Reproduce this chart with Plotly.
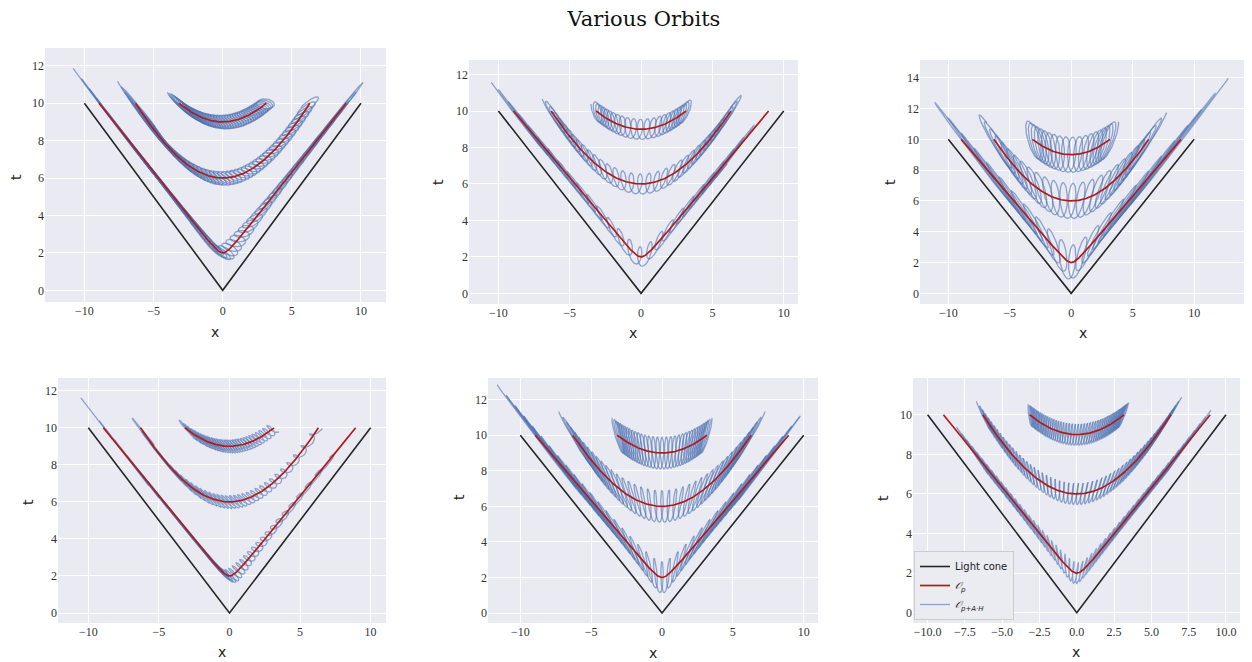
import numpy as np
import plotly.graph_objects as go

# ---------------- data ----------------
# orbits O_p : apex height, half-width where they reach t=10, shape, end rapidity
apex_t = [2.0, 6.0, 9.0]
end_x = [8.94, 6.30, 3.16]
shape_r = [0.4, 20.0, 20.0]
end_rapidity = [1.8, 0.91, 0.35]

# perturbed orbits O_{p+A*H}: per panel loop size, tilt, phase, centre sparsity, loop counts
loop_a = [0.75, 0.30, 0.46, 0.55, 0.19, 0.09]
loop_b = [0.20, 0.56, 1.15, 0.10, 0.90, 0.55]
loop_tilt_deg = [-25, -8, -5, -38, 0, -12]
loop_phase_deg = [180, 153, 60, 0, 90, 90]
centre_sparsity = [0.3, 0.8, 0.6, -0.15, 0.6, 0.5]
loop_counts = [[50, 50, 40], [30, 34, 24], [24, 26, 20], [40, 34, 30], [40, 40, 34], [64, 56, 48]]
# trimming of the outer (t = 2) perturbed orbit, in rapidity
trim_left = [0.10, 0.0, 0.07, 0.05, 0.0, 0.20]
trim_right = [0.0, 0.25, 0.0, 0.20, 0.12, 0.15]

# light cone
cone_x = [-10, 0, 10]
cone_t = [10, 0, 10]

# axes
x_ranges = [[-12.85, 11.81], [-12.06, 11.0], [-12.3, 14.3], [-12.15, 11.09], [-12.28, 11.01], [-10.98, 10.94]]
y_ranges = [[-0.625, 12.95], [-0.585, 12.8], [-0.69, 15.15], [-0.54, 12.69], [-0.56, 13.22], [-0.52, 11.86]]
x_ticks = [[-10, -5, 0, 5, 10]] * 5 + [[-10.0, -7.5, -5.0, -2.5, 0.0, 2.5, 5.0, 7.5, 10.0]]
x_ticktext = [["−10", "−5", "0", "5", "10"]] * 5 + [["−10.0", "−7.5", "−5.0", "−2.5", "0.0", "2.5", "5.0", "7.5", "10.0"]]
y_ticks = [[0, 2, 4, 6, 8, 10, 12], [0, 2, 4, 6, 8, 10, 12], [0, 2, 4, 6, 8, 10, 12, 14],
           [0, 2, 4, 6, 8, 10, 12], [0, 2, 4, 6, 8, 10, 12], [0, 2, 4, 6, 8, 10]]

# panel boxes in window pixels (left, right, top, bottom) and axis-label centres
panel_px = [(45, 386, 48, 302), (469, 798, 60, 304), (920, 1247, 60, 304),
            (58, 386, 378, 623), (488, 818, 378, 623), (913, 1240, 378, 623)]
xlabel_px = [(215, 332), (633, 333), (1083, 333), (222, 652), (653, 653), (1076, 652)]
ylabel_px = [(16, 177), (438, 182), (890, 182), (28, 502), (459, 497), (883, 498)]

OFF = 8            # page body margin of the browser
W, H = 1252 - OFF, 662 - OFF
CONE = "#262626"
RED = "#B01C1C"
BLUE = "rgba(76,114,176,0.6)"
BG = "#EAEAF2"


def fx(px):
    return (px - OFF) / W


def fy(py):
    return 1 - (py - OFF) / H


def orbit_center(k, s):
    c, xe, r, S = apex_t[k], end_x[k], shape_r[k], end_rapidity[k]
    m = ((10.0 - c + r) ** 2 - r ** 2) / xe ** 2
    x = xe * np.sinh(s) / np.sinh(S)
    t = c - r + np.sqrt(r ** 2 + m * x ** 2)
    return x, t


def perturbed(panel, k):
    S = end_rapidity[k]
    n = loop_counts[panel][k]
    s = np.linspace(-S, S, n * 90 + 1)
    u = s / S
    q = centre_sparsity[panel]
    th = np.pi * n * ((u + q * u ** 3) / (1 + q) + 1) + np.deg2rad(loop_phase_deg[panel])
    if k == 0:
        keep = (s >= -S + trim_left[panel]) & (s <= S - trim_right[panel])
        s, th = s[keep], th[keep]
    xc, tc = orbit_center(k, s)
    a, b = loop_a[panel], loop_b[panel]
    al = np.deg2rad(loop_tilt_deg[panel])
    ox0 = a * np.cos(th)
    ot0 = b * np.sin(th)
    ox = ox0 * np.cos(al) - ot0 * np.sin(al)
    ot = ox0 * np.sin(al) + ot0 * np.cos(al)
    bx = ox * np.cosh(s) + ot * np.sinh(s)
    bt = ox * np.sinh(s) + ot * np.cosh(s)
    loop_id = np.floor((th - th[0]) / (2 * np.pi)).astype(int)
    return xc + bx, tc + bt, loop_id


fig = go.Figure()
for p in range(6):
    xa = "x" if p == 0 else f"x{p + 1}"
    ya = "y" if p == 0 else f"y{p + 1}"
    show = (p == 5)
    fig.add_trace(go.Scatter(x=cone_x, y=cone_t, mode="lines", xaxis=xa, yaxis=ya,
                             line=dict(color=CONE, width=1.6), name="Light cone",
                             showlegend=show, legendrank=1, legendgroup="cone"))
    for k in range(3):
        bx, bt, lid = perturbed(p, k)
        for j in range(lid.max() + 1):
            idx = np.nonzero(lid == j)[0]
            if len(idx) == 0:
                continue
            i0, i1 = idx[0], min(idx[-1] + 2, len(bx))
            fig.add_trace(go.Scatter(x=bx[i0:i1], y=bt[i0:i1], mode="lines", xaxis=xa, yaxis=ya,
                                     line=dict(color=BLUE, width=1.3),
                                     name="<i>𝒪</i><sub><i>p+A·H</i></sub>",
                                     legendgroup="blue", legendrank=3,
                                     showlegend=show and k == 0 and j == 0, hoverinfo="skip"))
    for k in range(3):
        s = np.linspace(-end_rapidity[k], end_rapidity[k], 300)
        xc, tc = orbit_center(k, s)
        fig.add_trace(go.Scatter(x=xc, y=tc, mode="lines", xaxis=xa, yaxis=ya,
                                 line=dict(color=RED, width=1.7),
                                 name="<i>𝒪</i><sub><i>p</i></sub>", legendgroup="red",
                                 showlegend=show and k == 0, legendrank=2))

layout = dict(
    width=W, height=H,
    margin=dict(l=0, r=0, t=0, b=0, autoexpand=False),
    paper_bgcolor="white", plot_bgcolor=BG,
    title=dict(text="Various Orbits", x=fx(644), xanchor="center", y=0.995, yanchor="top",
               font=dict(family="DejaVu Serif", size=21, color="#111")),
    legend=dict(x=fx(914), y=fy(620), xanchor="left", yanchor="bottom",
                bgcolor="rgba(234,234,242,0.92)", bordercolor="#CCCCCC", borderwidth=1,
                font=dict(family="DejaVu Sans", size=10, color="#222"),
                tracegroupgap=0, itemwidth=30),
    annotations=[],
)
tickfont = dict(family="Liberation Serif", size=12, color="#333")
lblfont = dict(family="DejaVu Sans", size=14, color="#222")
for p in range(6):
    xk = "xaxis" if p == 0 else f"xaxis{p + 1}"
    yk = "yaxis" if p == 0 else f"yaxis{p + 1}"
    ya = "y" if p == 0 else f"y{p + 1}"
    xa = "x" if p == 0 else f"x{p + 1}"
    l, r, t, b = panel_px[p]
    layout[xk] = dict(domain=[fx(l), fx(r)], anchor=ya, range=x_ranges[p],
                      tickvals=x_ticks[p], ticktext=x_ticktext[p], tickfont=tickfont,
                      showgrid=True, gridcolor="white", gridwidth=1.2, zeroline=False,
                      showline=False, ticks="", ticklen=0)
    layout[yk] = dict(domain=[fy(b), fy(t)], anchor=xa, range=y_ranges[p],
                      tickvals=y_ticks[p], tickfont=tickfont,
                      showgrid=True, gridcolor="white", gridwidth=1.2, zeroline=False,
                      showline=False, ticks="", ticklen=0)
    layout["annotations"].append(dict(text="x", xref="paper", yref="paper",
                                      x=fx(xlabel_px[p][0]), y=fy(xlabel_px[p][1]),
                                      xanchor="center", yanchor="middle", showarrow=False, font=lblfont))
    layout["annotations"].append(dict(text="t", xref="paper", yref="paper", textangle=-90,
                                      x=fx(ylabel_px[p][0]), y=fy(ylabel_px[p][1]),
                                      xanchor="center", yanchor="middle", showarrow=False, font=lblfont))
fig.update_layout(**layout)
fig.write_html("out.html")
